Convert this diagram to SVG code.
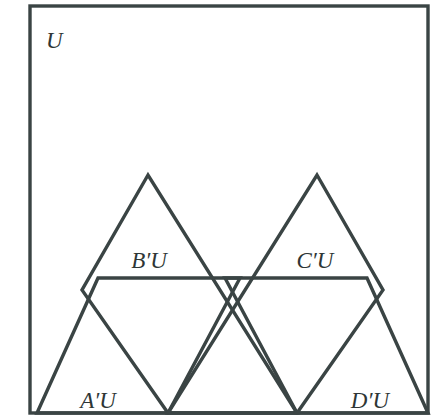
<svg xmlns="http://www.w3.org/2000/svg" width="442" height="416" viewBox="0 0 442 416">
<style>
.s{fill:none;stroke:#3a4444;stroke-width:3.4;stroke-linejoin:miter}
.t{font-family:"Liberation Serif","Times New Roman",serif;font-style:italic;font-size:23px;fill:#2e3636}
</style>
<rect width="442" height="416" fill="#ffffff"/>
<g id="U">
<rect class="s" x="30" y="6" width="398" height="407"/>
<text class="t" x="46" y="48">U</text>
</g>
<g id="A">
<polygon class="s" points="37,413 98,278 240,278 168,413"/>
<text class="t" x="98" y="408" text-anchor="middle">A′U</text>
</g>
<g id="D">
<polygon class="s" points="428,413 367,278 225,278 297,413"/>
<text class="t" x="370" y="408" text-anchor="middle">D′U</text>
</g>
<g id="B">
<polygon class="s" points="148,175 82,290 168,413 297,413"/>
<text class="t" x="149" y="268" text-anchor="middle">B′U</text>
</g>
<g id="C">
<polygon class="s" points="317,175 383,290 297,413 168,413"/>
<text class="t" x="315" y="268" text-anchor="middle">C′U</text>
</g>
<g id="connectors"></g>
</svg>
